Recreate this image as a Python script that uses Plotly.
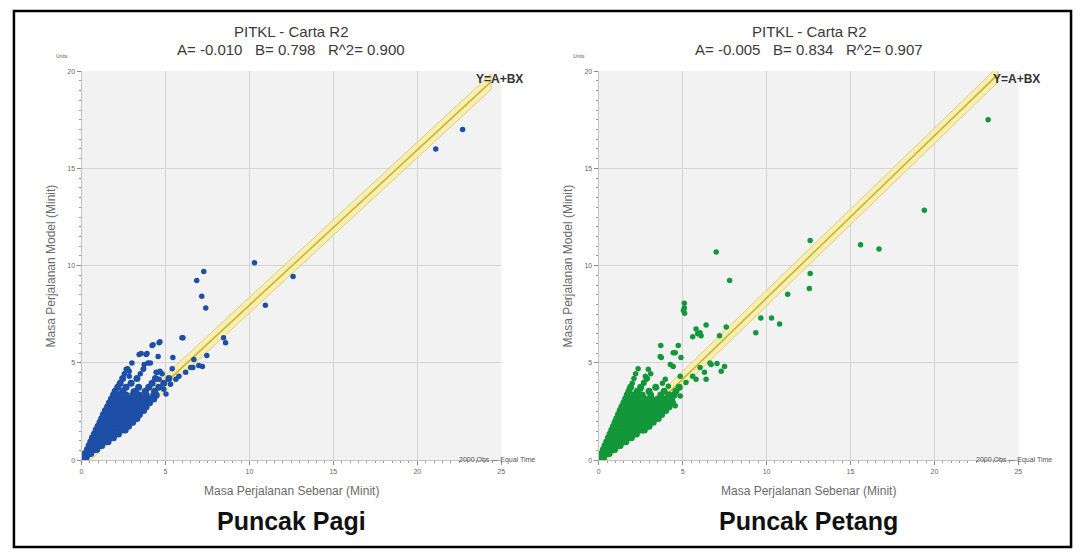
import plotly.graph_objects as go

W, H = 1083, 557

# ---------------- data ----------------
titles = ["PITKL - Carta R2", "PITKL - Carta R2"]
coef_A = [-0.010, -0.005]
coef_B = [0.798, 0.834]
coef_R2 = [0.900, 0.907]
panel_names = ["Puncak Pagi", "Puncak Petang"]
line_x_end = [24.4, 23.8]
x_ticks = [0, 5, 10, 15, 20, 25]
y_ticks = [0, 5, 10, 15, 20]

# Puncak Pagi: observed (x) vs model (y), minutes -- sparse points
pagi_outliers = [
    (22.7, 17.0), (21.1, 16.0), (10.3, 10.15), (12.6, 9.44), (10.95, 7.97),
    (7.28, 9.7), (6.86, 9.24), (7.16, 8.43), (7.4, 7.82), (5.98, 6.29),
    (8.58, 6.04), (8.46, 6.29), (4.67, 6.09), (4.2, 5.89), (4.56, 5.33),
    (3.55, 5.48), (3.85, 5.43), (5.44, 5.28), (7.46, 5.38), (6.69, 5.18),
    (6.98, 4.87), (4.67, 4.57), (3.9, 5.48), (5.8, 4.31), (6.2, 4.52),
    (6.63, 4.77), (4.44, 4.52), (3.73, 4.92), (2.84, 4.57), (7.2, 4.82),
    (2.66, 4.67), (2.84, 4.31), (2.96, 4.0), (2.66, 3.76), (3.08, 3.55),
    (3.67, 4.67), (3.96, 5.0), (4.26, 5.94), (4.62, 6.04), (3.43, 5.43),
    (4.56, 4.52), (4.62, 4.16), (4.44, 3.3), (5.03, 3.4), (5.62, 4.16),
    (6.04, 6.29), (6.5, 4.77), (5.3, 3.9), (4.9, 3.65),
    (2.55, 4.45), (3.5, 4.45), (4.8, 4.45),
    (2.75, 4.7), (3.7, 4.7), (5.4, 4.7),
    (3.0, 5.0), (4.1, 5.0),
]

# Puncak Pagi -- dense cluster near the origin
pagi_cluster = [
    (0.12, 0.15), (0.2, 0.15), (0.05, 0.05), (0.1, 0.08), (0.28, 0.15),
    (0.22, 0.35), (0.35, 0.35), (0.45, 0.35), (0.55, 0.35),
    (0.35, 0.55), (0.5, 0.55), (0.65, 0.55), (0.78, 0.55), (0.9, 0.55),
    (0.45, 0.75), (0.6, 0.75), (0.75, 0.75), (0.9, 0.75), (1.05, 0.75), (1.2, 0.75),
    (0.55, 0.95), (0.7, 0.95), (0.85, 0.95), (1.0, 0.95), (1.15, 0.95), (1.3, 0.95), (1.45, 0.95), (1.58, 0.95),
    (0.65, 1.15), (0.8, 1.15), (0.95, 1.15), (1.1, 1.15), (1.25, 1.15), (1.4, 1.15), (1.58, 1.15), (1.75, 1.15), (1.9, 1.15),
    (0.76, 1.35), (0.91, 1.35), (1.06, 1.35), (1.21, 1.35), (1.36, 1.35), (1.51, 1.35), (1.66, 1.35), (1.85, 1.35), (2.0, 1.35), (2.2, 1.35),
    (0.87, 1.55), (1.02, 1.55), (1.17, 1.55), (1.32, 1.55), (1.47, 1.55), (1.62, 1.55), (1.77, 1.55), (1.92, 1.55), (2.1, 1.55), (2.25, 1.55), (2.45, 1.55), (2.6, 1.55),
    (0.98, 1.75), (1.13, 1.75), (1.28, 1.75), (1.43, 1.75), (1.58, 1.75), (1.73, 1.75), (1.88, 1.75), (2.03, 1.75), (2.18, 1.75), (2.35, 1.75), (2.5, 1.75), (2.65, 1.75), (2.8, 1.75),
    (1.1, 1.95), (1.25, 1.95), (1.4, 1.95), (1.55, 1.95), (1.7, 1.95), (1.85, 1.95), (2.0, 1.95), (2.15, 1.95), (2.3, 1.95), (2.45, 1.95), (2.62, 1.95), (2.78, 1.95), (2.95, 1.95), (3.05, 1.95),
    (1.2, 2.15), (1.36, 2.15), (1.52, 2.15), (1.68, 2.15), (1.84, 2.15), (2.0, 2.15), (2.16, 2.15), (2.32, 2.15), (2.48, 2.15), (2.64, 2.15), (2.8, 2.15), (2.9, 2.15), (3.05, 2.15), (3.2, 2.15), (3.3, 2.15),
    (1.3, 2.35), (1.47, 2.35), (1.64, 2.35), (1.81, 2.35), (1.98, 2.35), (2.15, 2.35), (2.32, 2.35), (2.49, 2.35), (2.66, 2.35), (2.83, 2.35), (3.0, 2.35), (3.15, 2.35), (3.3, 2.35), (3.45, 2.35),
    (1.42, 2.55), (1.6, 2.55), (1.78, 2.55), (1.96, 2.55), (2.14, 2.55), (2.32, 2.55), (2.5, 2.55), (2.68, 2.55), (2.86, 2.55), (3.04, 2.55), (3.22, 2.55), (3.4, 2.55), (3.55, 2.55), (3.7, 2.55),
    (1.55, 2.75), (1.8, 2.75), (2.05, 2.75), (2.3, 2.75), (2.55, 2.75), (2.8, 2.75), (3.05, 2.75), (3.3, 2.75), (3.6, 2.75), (3.85, 2.75),
    (1.66, 2.95), (1.92, 2.95), (2.18, 2.95), (2.44, 2.95), (2.7, 2.95), (2.96, 2.95), (3.22, 2.95), (3.5, 2.95), (3.85, 2.95), (4.05, 2.95),
    (1.78, 3.15), (2.1, 3.15), (2.42, 3.15), (2.74, 3.15), (3.06, 3.15), (3.38, 3.15), (3.7, 3.15), (4.05, 3.15), (4.3, 3.15),
    (1.9, 3.35), (2.25, 3.35), (2.65, 3.35), (3.05, 3.35), (3.45, 3.35), (3.85, 3.35), (4.3, 3.35), (4.45, 3.35),
    (2.0, 3.55), (2.45, 3.55), (3.2, 3.55), (3.8, 3.55), (4.35, 3.55),
    (2.15, 3.75), (2.65, 3.75), (3.4, 3.75), (4.0, 3.75), (4.6, 3.75),
    (2.3, 3.95), (2.95, 3.95), (4.2, 3.95), (4.9, 3.95),
    (2.45, 4.2), (3.3, 4.2), (4.4, 4.2), (5.2, 4.2),
]

# Puncak Petang -- sparse points
petang_outliers = [
    (23.2, 17.5), (19.4, 12.85), (15.6, 11.07), (16.7, 10.86), (12.6, 11.3),
    (12.6, 9.6), (12.55, 8.83), (7.0, 10.7), (7.8, 9.24), (11.26, 8.53),
    (10.3, 7.31), (9.66, 7.31), (10.78, 7.0), (9.36, 6.55), (5.1, 8.07),
    (5.1, 7.82), (5.12, 7.56), (5.05, 7.7), (7.6, 6.85), (7.2, 6.4),
    (5.8, 6.75), (6.1, 6.4), (6.4, 6.95), (5.9, 6.5), (3.7, 5.9),
    (4.74, 5.9), (3.67, 5.33), (4.56, 5.53), (4.9, 5.28), (4.27, 4.92),
    (7.05, 4.97), (7.5, 4.82), (7.3, 4.57), (6.7, 4.92), (6.4, 4.16),
    (6.3, 4.52), (5.8, 4.16), (2.96, 4.67), (2.84, 4.16), (3.97, 4.16),
    (3.73, 5.28), (4.44, 5.53), (4.44, 4.82), (2.78, 4.31), (2.67, 4.0),
    (4.15, 3.8), (4.86, 4.31), (5.2, 4.0), (5.6, 4.31), (6.04, 4.77),
    (6.63, 5.0), (5.6, 6.35), (6.04, 6.55), (3.43, 3.15), (4.56, 2.8),
    (4.86, 3.3), (2.49, 3.66), (2.25, 3.3),
    (2.0, 3.95), (2.7, 3.95), (3.8, 3.95),
    (2.1, 4.2), (2.9, 4.2), (2.2, 4.45), (3.1, 4.45), (2.35, 4.7),
]

# Puncak Petang -- dense cluster near the origin
petang_cluster = [
    (0.05, 0.05), (0.1, 0.15), (0.2, 0.15), (0.12, 0.08), (0.3, 0.15),
    (0.18, 0.35), (0.3, 0.35), (0.42, 0.35), (0.52, 0.35), (0.62, 0.35),
    (0.28, 0.55), (0.42, 0.55), (0.56, 0.55), (0.7, 0.55), (0.85, 0.55), (0.95, 0.55),
    (0.38, 0.75), (0.52, 0.75), (0.66, 0.75), (0.8, 0.75), (0.94, 0.75), (1.08, 0.75), (1.18, 0.75), (1.28, 0.75),
    (0.48, 0.95), (0.63, 0.95), (0.78, 0.95), (0.93, 0.95), (1.08, 0.95), (1.23, 0.95), (1.38, 0.95), (1.5, 0.95), (1.62, 0.95),
    (0.58, 1.15), (0.73, 1.15), (0.88, 1.15), (1.03, 1.15), (1.18, 1.15), (1.33, 1.15), (1.48, 1.15), (1.63, 1.15), (1.8, 1.15), (1.95, 1.15),
    (0.68, 1.35), (0.84, 1.35), (1.0, 1.35), (1.16, 1.35), (1.32, 1.35), (1.48, 1.35), (1.64, 1.35), (1.8, 1.35), (1.96, 1.35), (2.1, 1.35), (2.25, 1.35),
    (0.78, 1.55), (0.95, 1.55), (1.12, 1.55), (1.29, 1.55), (1.46, 1.55), (1.63, 1.55), (1.8, 1.55), (1.97, 1.55), (2.14, 1.55), (2.3, 1.55), (2.45, 1.55), (2.6, 1.55), (2.72, 1.55),
    (0.88, 1.75), (1.05, 1.75), (1.22, 1.75), (1.39, 1.75), (1.56, 1.75), (1.73, 1.75), (1.9, 1.75), (2.07, 1.75), (2.24, 1.75), (2.41, 1.75), (2.58, 1.75), (2.75, 1.75), (2.9, 1.75), (3.0, 1.75),
    (0.98, 1.95), (1.16, 1.95), (1.34, 1.95), (1.52, 1.95), (1.7, 1.95), (1.88, 1.95), (2.06, 1.95), (2.24, 1.95), (2.42, 1.95), (2.6, 1.95), (2.78, 1.95), (2.96, 1.95), (3.1, 1.95), (3.25, 1.95),
    (1.08, 2.15), (1.26, 2.15), (1.44, 2.15), (1.62, 2.15), (1.8, 2.15), (1.98, 2.15), (2.16, 2.15), (2.34, 2.15), (2.52, 2.15), (2.7, 2.15), (2.88, 2.15), (3.06, 2.15), (3.24, 2.15), (3.4, 2.15), (3.55, 2.15),
    (1.18, 2.35), (1.37, 2.35), (1.56, 2.35), (1.75, 2.35), (1.94, 2.35), (2.13, 2.35), (2.32, 2.35), (2.51, 2.35), (2.7, 2.35), (2.89, 2.35), (3.08, 2.35), (3.27, 2.35), (3.46, 2.35), (3.6, 2.35), (3.75, 2.35),
    (1.28, 2.55), (1.5, 2.55), (1.72, 2.55), (1.94, 2.55), (2.16, 2.55), (2.38, 2.55), (2.6, 2.55), (2.82, 2.55), (3.04, 2.55), (3.26, 2.55), (3.48, 2.55), (3.7, 2.55), (3.85, 2.55), (4.0, 2.55),
    (1.38, 2.75), (1.62, 2.75), (1.9, 2.75), (2.2, 2.75), (2.5, 2.75), (2.8, 2.75), (3.1, 2.75), (3.4, 2.75), (3.7, 2.75), (4.0, 2.75), (4.2, 2.75),
    (1.5, 2.95), (1.8, 2.95), (2.1, 2.95), (2.4, 2.95), (2.7, 2.95), (3.0, 2.95), (3.3, 2.95), (3.6, 2.95), (3.9, 2.95), (4.2, 2.95), (4.4, 2.95),
    (1.6, 3.15), (1.95, 3.15), (2.35, 3.15), (2.75, 3.15), (3.15, 3.15), (3.55, 3.15), (3.95, 3.15), (4.35, 3.15),
    (1.7, 3.35), (2.1, 3.35), (2.6, 3.35), (3.1, 3.35), (3.7, 3.35), (4.2, 3.35), (4.5, 3.35),
    (1.8, 3.55), (2.3, 3.55), (3.0, 3.55), (3.9, 3.55), (4.6, 3.55),
    (1.9, 3.75), (2.5, 3.75), (3.4, 3.75), (4.8, 3.75),
]

panel_outliers = [pagi_outliers, petang_outliers]
panel_clusters = [pagi_cluster, petang_cluster]
marker_colors = ["#1d4fa6", "#12973b"]

# ---------------- layout geometry (pixels) ----------------
x_left_px = [80, 600]
x_right_px = [502, 1022]
y_top_px, y_bot_px = 68, 462


def px_x(p):
    return p / W


def px_y(p):
    return 1 - p / H


fig = go.Figure()
annotations = []
shapes = []


def note(text, x, y, size, color, xanchor="center", angle=0):
    return dict(text=text, x=px_x(x), y=px_y(y), xref="paper", yref="paper",
                showarrow=False, xanchor=xanchor, yanchor="middle",
                textangle=angle, font=dict(size=size, color=color))


for i in range(2):
    xa = "x" if i == 0 else "x2"
    ya = "y" if i == 0 else "y2"
    A, B = coef_A[i], coef_B[i]
    xe = line_x_end[i]
    lx = [0, xe]
    band_w = 0.4
    # confidence band
    fig.add_trace(go.Scatter(
        x=lx + lx[::-1],
        y=[A + B * v + band_w for v in lx] + [A + B * v - band_w for v in lx[::-1]],
        fill="toself", fillcolor="rgba(247,236,160,0.75)",
        line=dict(color="rgba(222,204,100,0.9)", width=1),
        mode="lines", hoverinfo="skip", showlegend=False, xaxis=xa, yaxis=ya))
    # regression line
    fig.add_trace(go.Scatter(
        x=lx, y=[A + B * v for v in lx], mode="lines",
        line=dict(color="#cdb52a", width=1.6),
        hoverinfo="skip", showlegend=False, xaxis=xa, yaxis=ya))
    # dense cluster
    cl = panel_clusters[i]
    fig.add_trace(go.Scatter(
        x=[p[0] for p in cl], y=[p[1] for p in cl], mode="markers",
        marker=dict(size=7, color=marker_colors[i], line=dict(width=0)),
        showlegend=False, xaxis=xa, yaxis=ya))
    # sparse points
    ol = panel_outliers[i]
    fig.add_trace(go.Scatter(
        x=[p[0] for p in ol], y=[p[1] for p in ol], mode="markers",
        marker=dict(size=5.5, color=marker_colors[i], line=dict(width=0)),
        showlegend=False, xaxis=xa, yaxis=ya))

    cx = (x_left_px[i] + x_right_px[i]) / 2
    annotations += [
        note(titles[i], cx, 28, 15, "#3a3a3a"),
        note("A= %.3f\u00a0\u00a0\u00a0B= %.3f\u00a0\u00a0\u00a0R^2= %.3f"
             % (coef_A[i], coef_B[i], coef_R2[i]), cx, 46, 15, "#3a3a3a"),
        note("Masa Perjalanan Sebenar (Minit)", cx, 493, 12, "#6a6a6a"),
        note("<b>%s</b>" % panel_names[i], cx, 524, 25, "#111111"),
        note("Masa Perjalanan Model (Minit)", x_left_px[i] - 31, 265, 12,
             "#6a6a6a", angle=-90),
        note("<b>Y=A+BX</b>", x_right_px[i] - 2, 76, 12, "#333333"),
        note("Units", x_left_px[i] - 20, 53, 5, "#555555"),
        note("2000 Obs \u2014 Equal Time", x_right_px[i] - 4, 462, 7, "#555555"),
    ]

axis_common = dict(
    showgrid=True, gridcolor="#d4d4d4", gridwidth=1, zeroline=False,
    showline=True, linecolor="#c4c4c4", linewidth=1,
    ticks="outside", ticklen=4, tickcolor="#888888",
    tickfont=dict(size=7, color="#666666"),
    minor=dict(ticks="outside", ticklen=2, tickcolor="#9a9a9a", dtick=0.5, showgrid=False),
    fixedrange=True,
)

shapes.append(dict(type="rect", xref="paper", yref="paper",
                   x0=px_x(12), x1=px_x(1075), y0=px_y(550), y1=px_y(7),
                   line=dict(color="#000000", width=2.5)))

fig.update_layout(
    width=W, height=H,
    margin=dict(l=0, r=0, t=0, b=0),
    paper_bgcolor="white", plot_bgcolor="#f2f2f2",
    font=dict(family="Liberation Sans, Arial, sans-serif"),
    xaxis=dict(domain=[px_x(x_left_px[0]), px_x(x_right_px[0])], range=[0, 25],
               tickvals=x_ticks, anchor="y", **axis_common),
    yaxis=dict(domain=[px_y(y_bot_px), px_y(y_top_px)], range=[0, 20],
               tickvals=y_ticks, anchor="x", **axis_common),
    xaxis2=dict(domain=[px_x(x_left_px[1]), px_x(x_right_px[1])], range=[0, 25],
                tickvals=x_ticks, anchor="y2", **axis_common),
    yaxis2=dict(domain=[px_y(y_bot_px), px_y(y_top_px)], range=[0, 20],
                tickvals=y_ticks, anchor="x2", **axis_common),
    annotations=annotations, shapes=shapes,
)

fig.write_html("out.html", config={"displayModeBar": False},
               post_script="document.body.style.margin='0px';document.body.style.overflow='hidden';")
